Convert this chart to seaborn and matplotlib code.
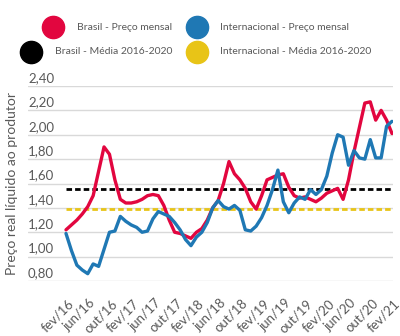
import matplotlib
matplotlib.use("Agg")
import matplotlib.pyplot as plt
import seaborn as sns
import pandas as pd
from matplotlib.transforms import ScaledTranslation
from matplotlib.lines import Line2D

# ---------------- data ----------------
mes_abrev = ["jan", "fev", "mar", "abr", "mai", "jun", "jul", "ago", "set", "out", "nov", "dez"]
meses = [f"{mes_abrev[(1 + i) % 12]}/{16 + (1 + i) // 12}" for i in range(61)]  # fev/16 .. fev/21

brasil = [1.22, 1.26, 1.30, 1.35, 1.41, 1.50, 1.70, 1.90, 1.84, 1.63,
          1.47, 1.44, 1.44, 1.45, 1.47, 1.50, 1.51, 1.50, 1.42, 1.30,
          1.20, 1.19, 1.17, 1.15, 1.20, 1.23, 1.30, 1.40, 1.46, 1.60,
          1.78, 1.68, 1.63, 1.56, 1.45, 1.39, 1.50, 1.63, 1.65, 1.67,
          1.68, 1.57, 1.50, 1.48, 1.49, 1.47, 1.45, 1.48, 1.52, 1.54,
          1.56, 1.47, 1.63, 1.86, 2.06, 2.26, 2.27, 2.12, 2.20, 2.12,
          2.01]
internacional = [1.19, 1.05, 0.93, 0.89, 0.86, 0.94, 0.92, 1.06, 1.20, 1.21,
                 1.33, 1.29, 1.26, 1.24, 1.20, 1.21, 1.31, 1.37, 1.35, 1.33,
                 1.28, 1.22, 1.14, 1.09, 1.16, 1.20, 1.28, 1.40, 1.46, 1.41,
                 1.39, 1.42, 1.38, 1.22, 1.21, 1.25, 1.32, 1.42, 1.55, 1.71,
                 1.45, 1.36, 1.44, 1.49, 1.47, 1.55, 1.51, 1.55, 1.66, 1.85,
                 2.00, 1.98, 1.75, 1.87, 1.81, 1.80, 1.96, 1.81, 1.81, 2.07,
                 2.11]
media_brasil = 1.555
media_internacional = 1.39

yticks = [0.80, 1.00, 1.20, 1.40, 1.60, 1.80, 2.00, 2.20, 2.40]
ytick_labels = ["0,80", "1,00", "1,20", "1,40", "1,60", "1,80", "2,00", "2,20", "2,40"]
xtick_step = 4

legend_labels = ["Brasil - Preço mensal", "Internacional - Preço mensal",
                 "Brasil - Média 2016-2020", "Internacional - Média 2016-2020"]

# ---------------- style ----------------
RED = "#e2063f"
BLUE = "#1f78b4"
BLACK = "#000000"
YELLOW = "#e8c417"
GRAY_TXT = "#595959"

sns.set_style("white")
plt.rcParams["font.family"] = ["Lato", "DejaVu Sans"]

W, H = 400, 336
fig = plt.figure(figsize=(W / 100, H / 100), dpi=100)
ax_l, ax_r, ax_t, ax_b = 28, 393, 86, 281
ax = fig.add_axes([ax_l / W, 1 - ax_b / H, (ax_r - ax_l) / W, (ax_b - ax_t) / H])

n = len(meses)
df = pd.DataFrame({
    "idx": list(range(n)) * 2,
    "valor": brasil + internacional,
    "serie": ["Brasil"] * n + ["Internacional"] * n,
})

sns.lineplot(data=df, x="idx", y="valor", hue="serie",
             palette={"Brasil": RED, "Internacional": BLUE},
             hue_order=["Brasil", "Internacional"],
             linewidth=2.4, legend=False, ax=ax, zorder=4)

ax.hlines(media_brasil, 0, n - 1, colors=BLACK, linewidth=2.0,
          linestyles=(0, (2.0, 1.1)), zorder=3)
ax.hlines(media_internacional, 0, n - 1, colors=YELLOW, linewidth=2.0,
          linestyles=(0, (2.0, 1.1)), zorder=3)

# axes limits: left padding so y labels sit over the gridlines
px_per_month = (392 - 66) / (n - 1)
ax.set_xlim(-(66 - ax_l) / px_per_month, (n - 1) + (ax_r - 392) / px_per_month)
ax.set_ylim(yticks[0], yticks[-1])

for s in ax.spines.values():
    s.set_visible(False)

ax.set_yticks(yticks)
ax.set_yticklabels(ytick_labels)
ax.yaxis.grid(True, color="#d9d9d9", linewidth=1.0, zorder=0)
ax.xaxis.grid(False)
ax.tick_params(axis="y", length=0, pad=0, labelsize=9.5, labelcolor=GRAY_TXT)
for lbl in ax.get_yticklabels():
    lbl.set_ha("left")
    lbl.set_transform(lbl.get_transform() + ScaledTranslation(0, 0.09, fig.dpi_scale_trans))

xt = list(range(0, n, xtick_step))
ax.set_xticks(xt)
ax.set_xticklabels([meses[i] for i in xt], rotation=45, ha="right", va="top")
ax.tick_params(axis="x", length=0, pad=0, labelsize=9.5, labelcolor=GRAY_TXT)
for lbl in ax.get_xticklabels():
    lbl.set_transform(lbl.get_transform() + ScaledTranslation(0.10, -0.16, fig.dpi_scale_trans))

ax.set_xlabel("")
ax.set_ylabel("Preço real líquido ao produtor", fontsize=10, color=GRAY_TXT)
ax.yaxis.set_label_coords((18 - ax_l) / (ax_r - ax_l), 0.5)

# ---------------- legend (manual, two rows) ----------------
leg_fs = 7.5
row_y = [27, 52]
left_txt_right = 172
right_txt_left = 220
right_marker_x = 197
gap = 24

fig.canvas.draw()
renderer = fig.canvas.get_renderer()

entries = [
    (legend_labels[0], RED, 0, "left"),
    (legend_labels[2], BLACK, 1, "left"),
    (legend_labels[1], BLUE, 0, "right"),
    (legend_labels[3], YELLOW, 1, "right"),
]
for text, color, row, col in entries:
    y = 1 - row_y[row] / H
    if col == "left":
        t = fig.text(left_txt_right / W, y, text, ha="right", va="center",
                     fontsize=leg_fs, color=GRAY_TXT)
        bb = t.get_window_extent(renderer)
        mx = (bb.x0 - gap) / W
    else:
        fig.text(right_txt_left / W, y, text, ha="left", va="center",
                 fontsize=leg_fs, color=GRAY_TXT)
        mx = right_marker_x / W
    fig.add_artist(Line2D([mx], [y], marker="o", markersize=16, color=color,
                          linestyle="none", transform=fig.transFigure))

fig.savefig("out.png", dpi=100)
